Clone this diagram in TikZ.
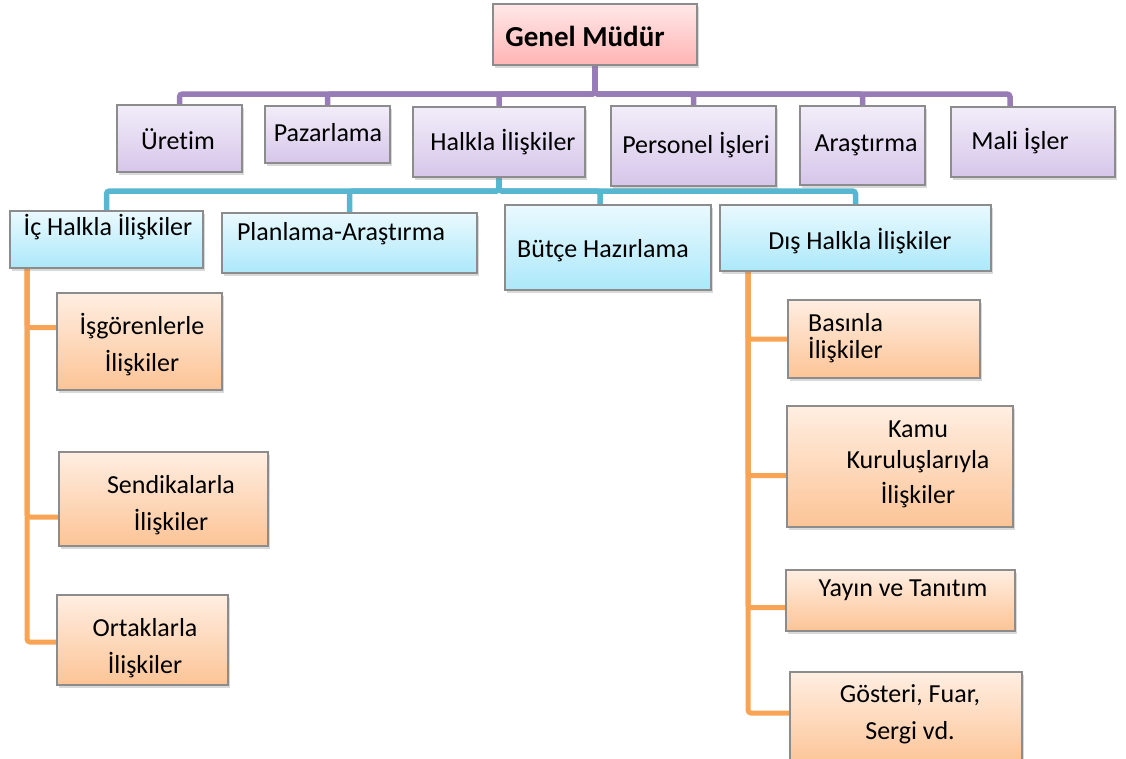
\documentclass[tikz,border=0pt]{standalone}
\usepackage{fontspec}
\setmainfont{Carlito}[Ligatures={NoCommon}]
\usetikzlibrary{shadows}
\definecolor{orgedge}{RGB}{140,140,140}
\definecolor{orgpinktop}{RGB}{255,232,232}
\definecolor{orgpinkbot}{RGB}{255,180,180}
\definecolor{orgpurtop}{RGB}{242,237,249}
\definecolor{orgpurbot}{RGB}{214,198,234}
\definecolor{orgcyantop}{RGB}{234,249,254}
\definecolor{orgcyanbot}{RGB}{172,232,250}
\definecolor{orgorgtop}{RGB}{255,238,226}
\definecolor{orgorgbot}{RGB}{252,196,150}
\definecolor{orgpurline}{RGB}{151,124,182}
\definecolor{orgcyanline}{RGB}{88,183,208}
\definecolor{orgorgline}{RGB}{248,164,84}
\pgfdeclarelayer{background}
\pgfsetlayers{background,main}

\begin{document}
\begin{tikzpicture}[x=1pt, y=-1pt,
    box/.style={rectangle, draw=orgedge, line width=1.1pt, inner sep=0pt,
                outer sep=0pt,
                drop shadow={shadow xshift=2pt, shadow yshift=-3pt,
                             opacity=0.3}},
    pinkbox/.style={box, top color=orgpinktop, bottom color=orgpinkbot},
    purbox/.style={box, top color=orgpurtop, bottom color=orgpurbot},
    cyanbox/.style={box, top color=orgcyantop, bottom color=orgcyanbot},
    orgbox/.style={box, top color=orgorgtop, bottom color=orgorgbot},
    lbl/.style={font=\fontsize{26}{37}\selectfont, inner sep=0pt,
                align=center},
    plink/.style={draw=orgpurline, line width=5.5pt, rounded corners=3pt},
    clink/.style={draw=orgcyanline, line width=5.5pt, rounded corners=3pt},
    olink/.style={draw=orgorgline, line width=5pt, rounded corners=3pt},
]

\useasboundingbox (0,0) rectangle (1126,758);

% ================================================================
% BOXES (pixel corners: x1/y1/x2/y2)
% ================================================================
\node[pinkbox, minimum width=204pt, minimum height=61pt]
  (gm) at (595,34.5) {};

\foreach \nm/\xa/\ya/\xb/\yb in {
  ure/117/105/242/172, paz/265/106/390/163, hal/413/107/585/177,
  per/611/106/776/186, ara/800/106/925/185, mal/951/107/1115/177} {
  \pgfmathsetmacro{\bw}{\xb-\xa}
  \pgfmathsetmacro{\bh}{\yb-\ya}
  \node[purbox, minimum width=\bw pt, minimum height=\bh pt]
    (\nm) at ({(\xa+\xb)/2}, {(\ya+\yb)/2}) {};
}

\foreach \nm/\xa/\ya/\xb/\yb in {
  ic/10/211/203/268, pla/222/213/477/273,
  but/505/205/711/290, dis/720/205/991/271} {
  \pgfmathsetmacro{\bw}{\xb-\xa}
  \pgfmathsetmacro{\bh}{\yb-\ya}
  \node[cyanbox, minimum width=\bw pt, minimum height=\bh pt]
    (\nm) at ({(\xa+\xb)/2}, {(\ya+\yb)/2}) {};
}

\foreach \nm/\xa/\ya/\xb/\yb in {
  isg/57/293/222/390, sen/59/452/268/546, ort/57/595/228/685,
  bas/788/300/980/378, kam/787/406/1013/527, yay/786/570/1015/631,
  gos/790/672/1022/766} {
  \pgfmathsetmacro{\bw}{\xb-\xa}
  \pgfmathsetmacro{\bh}{\yb-\ya}
  \node[orgbox, minimum width=\bw pt, minimum height=\bh pt]
    (\nm) at ({(\xa+\xb)/2}, {(\ya+\yb)/2}) {};
}

% ================================================================
% LABELS
% ================================================================
\node[lbl, font=\bfseries\fontsize{29}{34}\selectfont]
  (gm-t) at (585,36) {Genel Müdür};

\node[lbl] (ure-t) at (178,139) {Üretim};
\node[lbl] (paz-t) at (328,133) {Pazarlama};
\node[lbl] (hal-t) at (503,142) {Halkla İlişkiler};
\node[lbl] (per-t) at (696,145) {Personel İşleri};
\node[lbl] (ara-t) at (866,145) {Araştırma};
\node[lbl] (mal-t) at (1020,141) {Mali İşler};

\node[lbl] (ic-t)  at (108,227) {İç Halkla İlişkiler};
\node[lbl] (pla-t) at (341,234) {Planlama-Araştırma};
\node[lbl] (but-t) at (603,251) {Bütçe Hazırlama};
\node[lbl] (dis-t) at (860,241) {Dış Halkla İlişkiler};

\node[lbl] (isg-t) at (142,345) {İşgörenlerle\\İlişkiler};
\node[lbl] (sen-t) at (171,505) {Sendikalarla\\İlişkiler};
\node[lbl] (ort-t) at (145,648) {Ortaklarla\\İlişkiler};

\node[lbl, align=left, anchor=west,
      font=\fontsize{26}{27}\selectfont] (bas-t) at (808,338)
  {Basınla\\İlişkiler};
\node[lbl, font=\fontsize{26}{31}\selectfont] (kam-t) at (918,464)
  {Kamu\\Kuruluşlarıyla\\[4pt]İlişkiler};
\node[lbl] (yay-t) at (903,590) {Yayın ve Tanıtım};
\node[lbl] (gos-t) at (910,714) {Gösteri, Fuar,\\Sergi vd.};

% ================================================================
% CONNECTORS (behind the boxes)
% ================================================================
\begin{pgfonlayer}{background}
\coordinate (pbar) at (0,94);
\coordinate (cbar) at (0,191);

% Genel Müdür -> departments
\foreach \c in {ure,paz,hal,per,ara}
  \draw[plink] (gm.south) -- (gm.south |- pbar) -| (\c.north);
\draw[plink] (gm.south) -- (gm.south |- pbar) -| ([xshift=-23pt]mal.north);

% Halkla İlişkiler -> units
\foreach \c in {ic,pla,dis}
  \draw[clink] (hal.south) -- (hal.south |- cbar) -| (\c.north);
\draw[clink] (hal.south) -- (hal.south |- cbar) -| ([xshift=-8pt]but.north);

% İç Halkla İlişkiler -> sub units
\coordinate (icx) at ([xshift=17pt]ic.south west);
\draw[olink] (icx) |- ([yshift=14pt]isg.west);
\draw[olink] (icx) |- ([yshift=-18pt]sen.west);
\draw[olink] (icx) |- ([yshift=-2pt]ort.west);

% Dış Halkla İlişkiler -> sub units
\coordinate (disx) at ([xshift=28pt]dis.south west);
\draw[olink] (disx) |- (bas.west);
\draw[olink] (disx) |- ([yshift=-9pt]kam.west);
\draw[olink] (disx) |- ([yshift=-7pt]yay.west);
\draw[olink] (disx) |- ([yshift=6pt]gos.west);
\end{pgfonlayer}

\end{tikzpicture}
\end{document}
